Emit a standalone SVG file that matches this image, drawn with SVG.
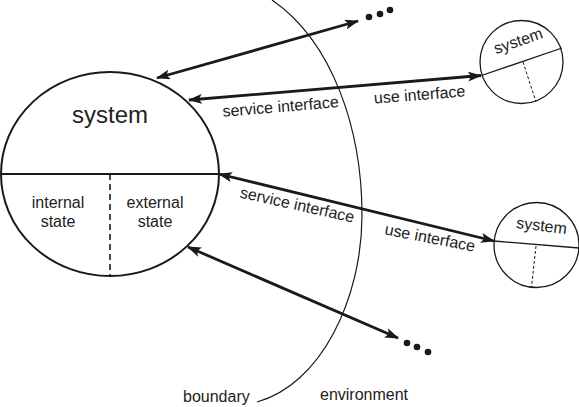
<svg xmlns="http://www.w3.org/2000/svg" width="579" height="407" viewBox="0 0 579 407">
<style>
text{font-family:"Liberation Sans",Arial,sans-serif;fill:#222}
.lbl{font-size:16px}
.sys{font-size:24px}
.outline{fill:#fff;stroke:#1a1a1a}
.arrow{stroke:#1a1a1a;stroke-width:2.8;fill:none;marker-start:url(#ah);marker-end:url(#ah)}
.dot{fill:#1a1a1a}
</style>
<defs>
<marker id="ah" viewBox="0 0 14 10" refX="13" refY="5" markerWidth="14" markerHeight="10" markerUnits="userSpaceOnUse" orient="auto-start-reverse">
<path d="M0,0 L14,5 L0,10 L3,5 Z" fill="#1a1a1a"/>
</marker>
</defs>
<g id="boundary">
<path d="M 272 0 C 333 42, 362 130, 362 215 C 362 300, 320 385, 257 402" fill="none" stroke="#1a1a1a" stroke-width="1.2"/>
<text class="lbl" x="183" y="402">boundary</text>
<text class="lbl" x="320" y="400">environment</text>
</g>
<g id="main-system">
<ellipse class="outline" cx="110" cy="174" rx="109" ry="102" stroke-width="2"/>
<line x1="1" y1="174" x2="219" y2="174" stroke="#1a1a1a" stroke-width="1.8"/>
<line x1="110" y1="174" x2="110" y2="276" stroke="#1a1a1a" stroke-width="1.6" stroke-dasharray="6,4"/>
<text class="sys" x="110" y="123" text-anchor="middle">system</text>
<text class="lbl" x="58" y="208" text-anchor="middle">internal</text>
<text class="lbl" x="58" y="227" text-anchor="middle">state</text>
<text class="lbl" x="155" y="208" text-anchor="middle">external</text>
<text class="lbl" x="155" y="227" text-anchor="middle">state</text>
</g>
<g id="system-top">
<circle class="outline" cx="521.5" cy="62" r="41.5" stroke-width="1.3"/>
<line x1="481.5" y1="75.5" x2="562" y2="48" stroke="#1a1a1a" stroke-width="1.3"/>
<line x1="523" y1="62" x2="536" y2="102" stroke="#1a1a1a" stroke-width="1" stroke-dasharray="3,2"/>
<text class="lbl" x="520" y="46" text-anchor="middle" transform="rotate(-19 520 46)">system</text>
</g>
<g id="system-bottom">
<circle class="outline" cx="536.5" cy="245" r="42.5" stroke-width="1.3"/>
<line x1="494" y1="241" x2="579" y2="248" stroke="#1a1a1a" stroke-width="1.3"/>
<line x1="536" y1="246" x2="531.5" y2="287" stroke="#1a1a1a" stroke-width="1" stroke-dasharray="3,2"/>
<text class="lbl" x="541" y="231" text-anchor="middle" transform="rotate(7 541 231)">system</text>
</g>
<g id="more-top">
<circle class="dot" cx="369" cy="17" r="3.3"/>
<circle class="dot" cx="380" cy="14" r="3.3"/>
<circle class="dot" cx="390" cy="10" r="3.3"/>
</g>
<g id="more-bottom">
<circle class="dot" cx="407" cy="343" r="3.3"/>
<circle class="dot" cx="417" cy="347" r="3.3"/>
<circle class="dot" cx="428" cy="352" r="3.3"/>
</g>
<g id="connectors">
<line class="arrow" x1="157" y1="78" x2="358" y2="21"/>
<line class="arrow" x1="189" y1="100" x2="481" y2="75.5"/>
<line class="arrow" x1="219" y1="174" x2="494" y2="241"/>
<line class="arrow" x1="188" y1="247" x2="398" y2="338"/>
<text class="lbl" x="281" y="112" text-anchor="middle" transform="rotate(-4.8 281 112)">service interface</text>
<text class="lbl" x="420" y="100" text-anchor="middle" transform="rotate(-4.5 420 100)">use interface</text>
<text class="lbl" x="296" y="210" text-anchor="middle" transform="rotate(12.5 296 210)">service interface</text>
<text class="lbl" x="429" y="243" text-anchor="middle" transform="rotate(11 429 243)">use interface</text>
</g>
</svg>
